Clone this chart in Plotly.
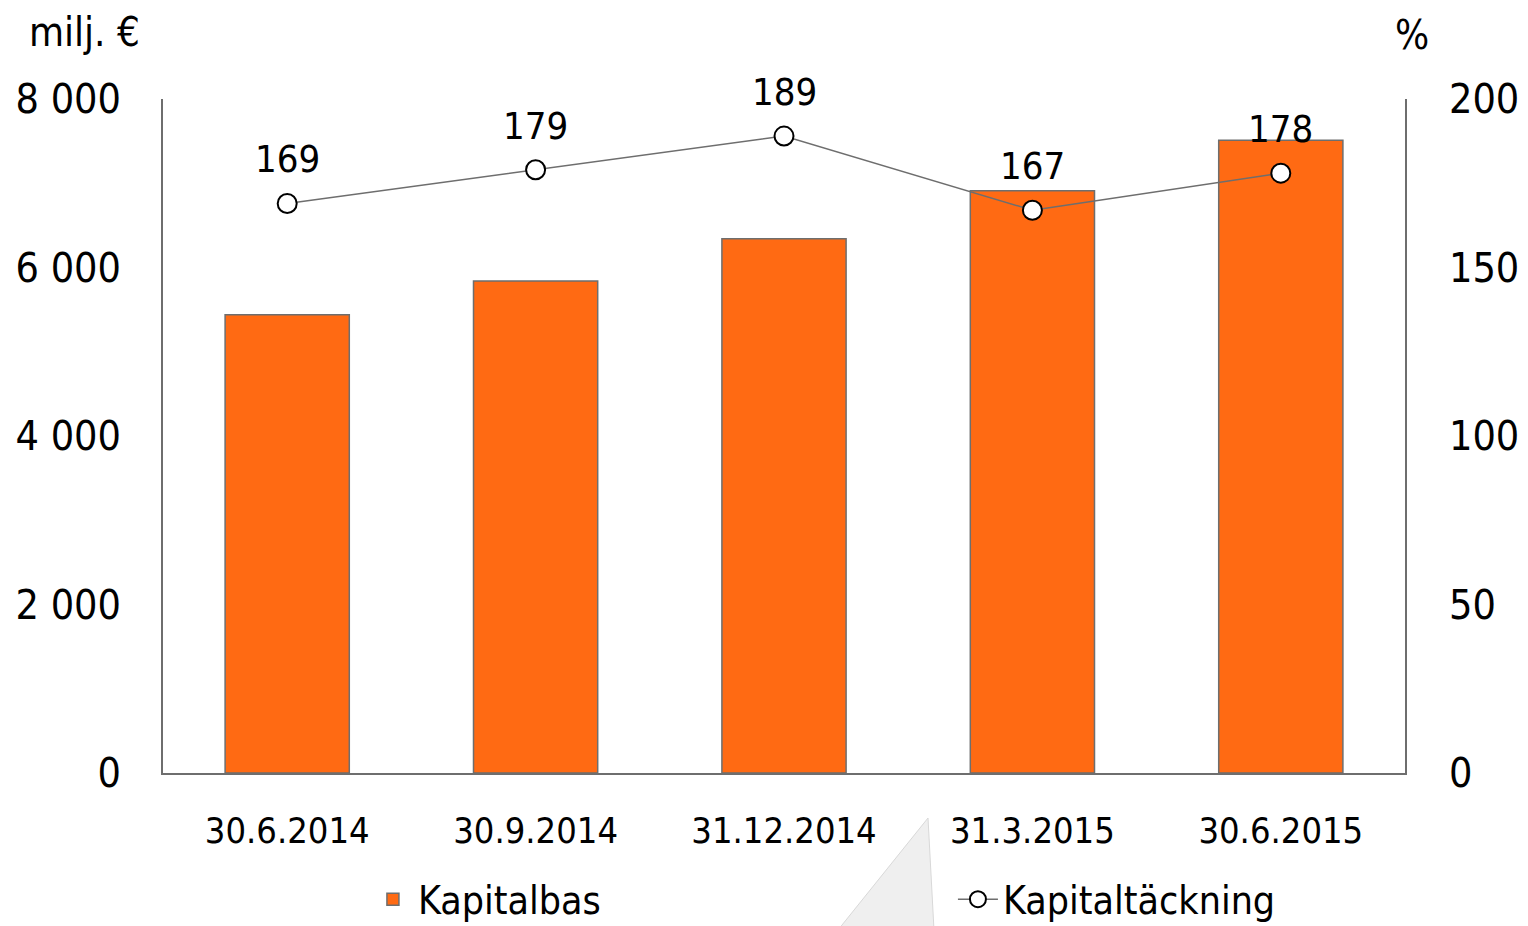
import plotly.graph_objects as go

categories = ["30.6.2014", "30.9.2014", "31.12.2014", "31.3.2015", "30.6.2015"]
kapitalbas = [5440, 5840, 6340, 6910, 7510]
kapitaltackning = [169, 179, 189, 167, 178]
left_ticks = [0, 2000, 4000, 6000, 8000]
left_ticktext = ["0", "2 000", "4 000", "6 000", "8 000"]
right_ticks = [0, 50, 100, 150, 200]

FONT = "DejaVu Sans Condensed, Liberation Sans Narrow, Noto Sans, sans-serif"

fig = go.Figure()
fig.add_trace(go.Bar(
    x=categories, y=kapitalbas, name="Kapitalbas",
    marker=dict(color="#ff6a13", line=dict(color="#6e6e6e", width=1.5)),
    width=0.5,
))
fig.add_trace(go.Scatter(
    x=categories, y=kapitaltackning, name="Kapitaltäckning", yaxis="y2",
    mode="lines+markers",
    line=dict(color="#6e6e6e", width=1.5),
    marker=dict(symbol="circle", size=19, color="white", line=dict(color="black", width=2)),
))

for c, v in zip(categories, kapitaltackning):
    fig.add_annotation(x=c, y=v, xref="x", yref="y2", text=str(v), showarrow=False,
                       yshift=44, font=dict(size=38, color="black", family=FONT))

fig.add_annotation(x=-0.063, y=1.099, xref="paper", yref="paper", text="milj. €", showarrow=False,
                   font=dict(size=40, color="black", family=FONT), xanchor="center", yanchor="middle")
fig.add_annotation(x=1.006, y=1.095, xref="paper", yref="paper", text="%", showarrow=False,
                   font=dict(size=40, color="black", family=FONT), xanchor="center", yanchor="middle")

# decorative light triangle artifact near legend
def px(x, y):
    return (x - 163) / 1242, (773 - y) / 674
p1 = px(928, 818); p2 = px(838, 930); p3 = px(934, 930)
fig.add_shape(type="path", xref="paper", yref="paper",
              path=f"M {p1[0]} {p1[1]} L {p2[0]} {p2[1]} L {p3[0]} {p3[1]} Z",
              fillcolor="#efefef", line=dict(color="#d8d8d8", width=1), layer="below")

fig.update_layout(
    width=1528, height=926,
    margin=dict(l=163, r=123, t=99, b=153, autoexpand=False),
    plot_bgcolor="white", paper_bgcolor="white",
    font=dict(family=FONT, color="black"),
    showlegend=True,
    legend=dict(orientation="h", x=0.165, xanchor="left", y=-0.14, yanchor="top",
                font=dict(size=39, family=FONT), entrywidth=530, itemwidth=40,
                bgcolor="rgba(0,0,0,0)"),
    xaxis=dict(showline=True, linecolor="#6e6e6e", linewidth=1.5, showgrid=False, automargin=False,
               tickfont=dict(size=36, family=FONT), ticks="", ticklabelstandoff=25),
    yaxis=dict(range=[0, 8000], tickvals=left_ticks, ticktext=left_ticktext, automargin=False,
               showline=True, linecolor="#6e6e6e", linewidth=1.5, showgrid=False, zeroline=False,
               tickfont=dict(size=41, family=FONT), ticks="", ticklabelstandoff=32),
    yaxis2=dict(range=[0, 200], tickvals=right_ticks, overlaying="y", side="right", automargin=False,
                showline=True, linecolor="#6e6e6e", linewidth=1.5, showgrid=False, zeroline=False,
                tickfont=dict(size=41, family=FONT), ticks="", ticklabelstandoff=34),
)

fig.write_html("out.html", config={"displayModeBar": False},
               post_script="document.body.style.margin='0';document.body.style.overflow='hidden';")
